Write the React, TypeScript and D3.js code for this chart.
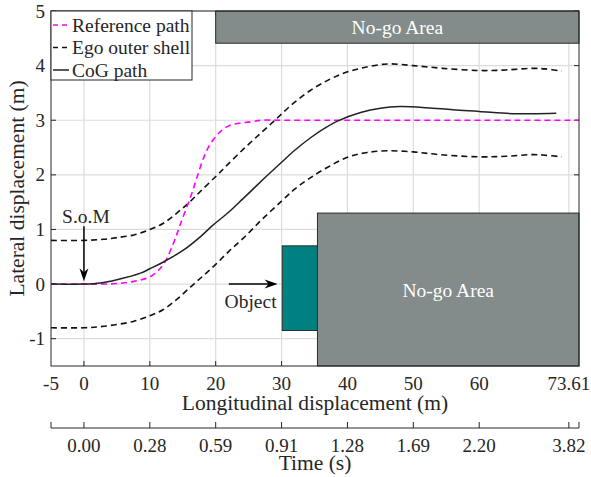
import React from "react";
import * as d3 from "d3";

const W = 591;
const H = 477;

// x ticks (longitudinal displacement, m) and matching time labels
const xTicks = [0, 10, 20, 30, 40, 50, 60, 73.61];
const xTickLabels = ["0", "10", "20", "30", "40", "50", "60", "73.61"];
const timeLabels = ["0.00", "0.28", "0.59", "0.91", "1.28", "1.69", "2.20", "3.82"];
const yTicks = [-1, 0, 1, 2, 3, 4, 5];

// Reference path (magenta dashed)
const refX = [-5, 0, 2.5, 5, 7.6, 10.1, 12, 13.6, 14.65, 16.2, 17.2, 18.2, 19.2, 20.7, 22.2, 25.3, 27, 30, 75.15];
const refY = [0, 0, 0, 0.01, 0.05, 0.14, 0.35, 0.75, 1.1, 1.6, 1.97, 2.32, 2.57, 2.79, 2.91, 2.97, 3.0, 3.0, 3.0];

// CoG path (solid)
const cogX = [-5, 0, 2.5, 5, 8.6, 10, 12, 15.2, 17.7, 19.5, 22, 24.2, 27.5, 30, 32, 34.3, 36.5, 38.4, 42, 45, 48, 52, 56, 60, 65, 68, 71.7];
const cogY = [0, 0, 0.02, 0.08, 0.2, 0.28, 0.4, 0.63, 0.87, 1.07, 1.32, 1.57, 1.95, 2.23, 2.45, 2.67, 2.85, 2.98, 3.14, 3.22, 3.25, 3.23, 3.19, 3.16, 3.12, 3.12, 3.13];

// Ego outer shell, upper edge (black dashed)
const upX = [-5, 0, 3, 5, 7.6, 10, 12, 14.1, 16.2, 17.7, 20.1, 21.5, 24.2, 26.8, 29, 31.5, 34.3, 37, 39.4, 42, 46, 50, 54.5, 60, 64, 68, 70, 72.5];
const upY = [0.8, 0.8, 0.82, 0.85, 0.9, 1.0, 1.11, 1.3, 1.52, 1.7, 1.98, 2.15, 2.47, 2.76, 3.0, 3.28, 3.54, 3.73, 3.86, 3.95, 4.03, 4.0, 3.95, 3.91, 3.92, 3.95, 3.94, 3.9];

// Ego outer shell, lower edge (black dashed)
const loX = [-5, 0, 2.5, 5, 7.6, 10, 12, 14.1, 16.2, 18, 20, 22, 24.2, 27, 30, 32, 34.3, 37, 40.2, 43, 46, 50, 54, 60, 64, 68, 70, 72.5];
const loY = [-0.8, -0.8, -0.78, -0.74, -0.68, -0.58, -0.47, -0.28, -0.05, 0.14, 0.36, 0.6, 0.84, 1.18, 1.52, 1.74, 1.94, 2.14, 2.33, 2.41, 2.44, 2.42, 2.37, 2.33, 2.34, 2.37, 2.36, 2.33];

// Areas: [x0, x1, y0, y1]
const topNoGo = [20, 75.15, 4.41, 5];
const bottomNoGo = [35.45, 75.15, -1.5, 1.3];
const objectBox = [30.1, 35.45, -0.85, 0.7];

const FONT = "Liberation Serif, Times New Roman, Times, serif";
const AX = "#262626";
const GRID = "#dcdcdc";
const GRAY = "#838b8b";
const TEAL = "#008080";

export default function App() {
  const L = 51, R = 579, T = 11, B = 366;
  const x = d3.scaleLinear().domain([-5, 75.15]).range([L, R]);
  const y = d3.scaleLinear().domain([-1.5, 5]).range([B, T]);

  const line = d3
    .line<[number, number]>()
    .x((d) => x(d[0]))
    .y((d) => y(d[1]))
    .curve(d3.curveCatmullRom.alpha(0.5));

  const zip = (a: number[], b: number[]) => a.map((v, i) => [v, b[i]] as [number, number]);

  const rect = (r: number[], fill: string, key: string) => (
    <rect
      key={key}
      x={x(r[0])}
      y={y(r[3])}
      width={x(r[1]) - x(r[0])}
      height={y(r[2]) - y(r[3])}
      fill={fill}
      stroke="#2b2b2b"
      strokeWidth={1}
    />
  );

  const timeY = 428;
  const allX = [-5, ...xTicks, 75.15];

  // arrows
  const somX = x(0), somY0 = y(1.06), somY1 = y(0.05);
  const objY = y(0), objX0 = x(22), objX1 = x(29.4);

  return (
    <svg
      width={W}
      height={H}
      style={{ position: "absolute", left: 0, top: 0, background: "#fff", fontFamily: FONT }}
    >
      <rect x={0} y={0} width={W} height={H} fill="#fff" />
      {/* grid */}
      {xTicks.map((t) => (
        <line key={"gx" + t} x1={x(t)} x2={x(t)} y1={T} y2={B} stroke={GRID} strokeWidth={1.2} />
      ))}
      {yTicks.map((t) => (
        <line key={"gy" + t} x1={L} x2={R} y1={y(t)} y2={y(t)} stroke={GRID} strokeWidth={1.2} />
      ))}
      {/* ticks inside */}
      {xTicks.map((t) => (
        <g key={"tx" + t}>
          <line x1={x(t)} x2={x(t)} y1={B} y2={B - 5} stroke={AX} />
          <line x1={x(t)} x2={x(t)} y1={T} y2={T + 5} stroke={AX} />
        </g>
      ))}
      {yTicks.map((t) => (
        <g key={"ty" + t}>
          <line x1={L} x2={L + 5} y1={y(t)} y2={y(t)} stroke={AX} />
          <line x1={R} x2={R - 5} y1={y(t)} y2={y(t)} stroke={AX} />
        </g>
      ))}

      {/* curves */}
      <path d={line(zip(upX, upY)) || ""} fill="none" stroke="#111" strokeWidth={1.6} strokeDasharray="6,4" />
      <path d={line(zip(loX, loY)) || ""} fill="none" stroke="#111" strokeWidth={1.6} strokeDasharray="6,4" />
      <path d={line(zip(refX, refY)) || ""} fill="none" stroke="#ff00ff" strokeWidth={1.6} strokeDasharray="6,4" />
      <path d={line(zip(cogX, cogY)) || ""} fill="none" stroke="#222" strokeWidth={1.5} />

      {/* areas */}
      {rect(objectBox, TEAL, "obj")}
      {rect(bottomNoGo, GRAY, "bng")}
      {rect(topNoGo, GRAY, "tng")}
      <text
        x={(x(bottomNoGo[0]) + x(bottomNoGo[1])) / 2}
        y={(y(bottomNoGo[2]) + y(bottomNoGo[3])) / 2 + 7}
        fill="#fff"
        fontSize={19.5}
        textAnchor="middle"
      >
        No-go Area
      </text>
      <text
        x={(x(topNoGo[0]) + x(topNoGo[1])) / 2}
        y={(y(topNoGo[2]) + y(topNoGo[3])) / 2 + 7}
        fill="#fff"
        fontSize={19.5}
        textAnchor="middle"
      >
        No-go Area
      </text>

      {/* axes frame */}
      <rect x={L} y={T} width={R - L} height={B - T} fill="none" stroke={AX} strokeWidth={1} />

      {/* tick labels */}
      <text x={x(-5)} y={389.5} fontSize={19} textAnchor="middle" fill={AX}>-5</text>
      {xTicks.map((t, i) => (
        <text key={"lx" + t} x={x(t)} y={389.5} fontSize={19} textAnchor="middle" fill={AX}>
          {xTickLabels[i]}
        </text>
      ))}
      {yTicks.map((t) => (
        <text key={"ly" + t} x={45} y={y(t) + 6.5} fontSize={19} textAnchor="end" fill={AX}>
          {String(t)}
        </text>
      ))}
      <text x={(L + R) / 2} y={409.5} fontSize={21.5} textAnchor="middle" fill={AX}>
        Longitudinal displacement (m)
      </text>
      <text
        transform={`translate(24,${(T + B) / 2}) rotate(-90)`}
        fontSize={21.5}
        textAnchor="middle"
        fill={AX}
      >
        Lateral displacement (m)
      </text>

      {/* time axis */}
      <line x1={L} x2={R} y1={timeY} y2={timeY} stroke={AX} />
      {allX.map((t, i) => (
        <line key={"tt" + i} x1={x(t)} x2={x(t)} y1={timeY} y2={timeY - 6} stroke={AX} />
      ))}
      {xTicks.map((t, i) => (
        <text key={"tl" + t} x={x(t)} y={452} fontSize={19} textAnchor="middle" fill={AX}>
          {timeLabels[i]}
        </text>
      ))}
      <text x={(L + R) / 2} y={470} fontSize={21.5} textAnchor="middle" fill={AX}>
        Time (s)
      </text>

      {/* annotations */}
      <line x1={somX} x2={somX} y1={somY0} y2={somY1 - 8} stroke="#000" strokeWidth={1.5} />
      <path
        d={`M${somX},${somY1} L${somX - 4.5},${somY1 - 13} L${somX},${somY1 - 9} L${somX + 4.5},${somY1 - 13} Z`}
        fill="#000"
      />
      <text x={x(0.3)} y={y(1.23) + 6.5} fontSize={19.5} textAnchor="middle" fill={AX}>
        S.o.M
      </text>
      <line x1={objX0} x2={objX1 - 8} y1={objY} y2={objY} stroke="#000" strokeWidth={1.5} />
      <path
        d={`M${objX1},${objY} L${objX1 - 13},${objY - 4.5} L${objX1 - 9},${objY} L${objX1 - 13},${objY + 4.5} Z`}
        fill="#000"
      />
      <text x={x(25.3)} y={y(-0.31) + 6.5} fontSize={19.5} textAnchor="middle" fill={AX}>
        Object
      </text>

      {/* legend */}
      <rect x={L} y={T} width={141} height={69} fill="#fff" stroke={AX} strokeWidth={1} />
      <line x1={53} x2={69} y1={25} y2={25} stroke="#ff00ff" strokeWidth={1.6} strokeDasharray="5,4" />
      <line x1={53} x2={69} y1={47.5} y2={47.5} stroke="#111" strokeWidth={1.6} strokeDasharray="5,4" />
      <line x1={53} x2={69} y1={70} y2={70} stroke="#222" strokeWidth={1.5} />
      <text x={72} y={31.5} fontSize={19.5} fill={AX}>Reference path</text>
      <text x={72} y={54} fontSize={19.5} fill={AX}>Ego outer shell</text>
      <text x={72} y={76.5} fontSize={19.5} fill={AX}>CoG path</text>
    </svg>
  );
}
